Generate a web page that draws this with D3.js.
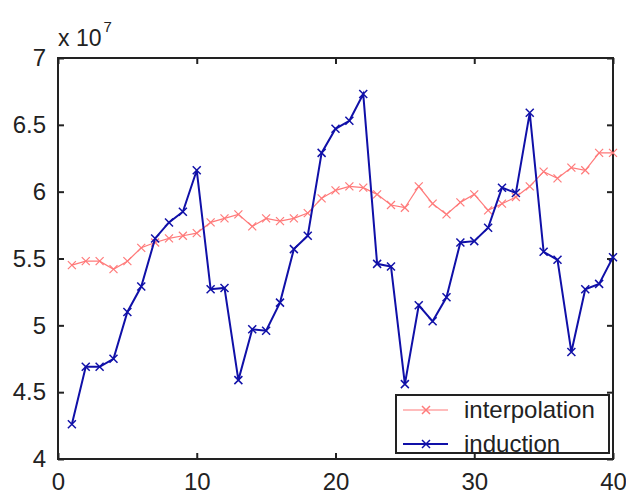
<!DOCTYPE html>
<html>
<head>
<meta charset="utf-8">
<script src="https://cdn.jsdelivr.net/npm/d3@7"></script>
<style>
  body { margin: 0; background: #fff; }
  svg { display: block; font-family: "Liberation Sans", Arial, sans-serif; }
</style>
</head>
<body>
<svg id="chart" width="626" height="496"></svg>
<script>
// values in units of 1e7
const xs = d3.range(1, 41)
const interpolation = [5.45, 5.48, 5.48, 5.42, 5.48, 5.58, 5.62, 5.65, 5.67, 5.69,
	5.77, 5.80, 5.83, 5.74, 5.80, 5.78, 5.80, 5.84, 5.95, 6.01,
	6.04, 6.03, 5.98, 5.90, 5.88, 6.04, 5.91, 5.83, 5.92, 5.98,
	5.86, 5.91, 5.96, 6.04, 6.15, 6.10, 6.18, 6.16, 6.29, 6.29]
const induction = [4.26, 4.69, 4.69, 4.75, 5.10, 5.29, 5.65, 5.77, 5.85, 6.16,
	5.27, 5.28, 4.59, 4.97, 4.96, 5.17, 5.57, 5.67, 6.29, 6.47,
	6.53, 6.73, 5.46, 5.44, 4.56, 5.15, 5.03, 5.21, 5.62, 5.63,
	5.73, 6.03, 5.99, 6.59, 5.55, 5.49, 4.80, 5.27, 5.31, 5.51]
const xTicks = [0, 10, 20, 30, 40]
const yTicks = [4, 4.5, 5, 5.5, 6, 6.5, 7]
const seriesNames = ["interpolation", "induction"]
const seriesColors = ["#ff7a7a", "#1010a8"]

const svg = d3.select("#chart")
const m = {left: 58, right: 13, top: 58, bottom: 37}
const W = 626, H = 496

const x = d3.scaleLinear().domain([0, 40]).range([m.left, W - m.right])
const y = d3.scaleLinear().domain([4, 7]).range([H - m.bottom, m.top])

const tickLen = 6
const axisColor = "#222"

// ticks on all four sides, pointing inward
const g = svg.append("g")
g.append("g").attr("transform", `translate(0,${H - m.bottom})`)
	.call(d3.axisBottom(x).tickValues(xTicks).tickSize(-tickLen).tickPadding(14).tickFormat(d3.format("d")))
g.append("g").attr("transform", `translate(0,${m.top})`)
	.call(d3.axisTop(x).tickValues(xTicks).tickSize(-tickLen).tickFormat(""))
g.append("g").attr("transform", `translate(${m.left},0)`)
	.call(d3.axisLeft(y).tickValues(yTicks).tickSize(-tickLen).tickPadding(12).tickFormat(d => String(d)))
g.append("g").attr("transform", `translate(${W - m.right},0)`)
	.call(d3.axisRight(y).tickValues(yTicks).tickSize(-tickLen).tickFormat(""))

g.selectAll(".domain").remove()
g.selectAll(".tick line").attr("stroke", axisColor).attr("stroke-width", 2)
g.selectAll(".tick text").attr("fill", "#222").style("font-size", "24px")

// axes box
svg.append("rect")
	.attr("x", m.left).attr("y", m.top)
	.attr("width", W - m.left - m.right).attr("height", H - m.top - m.bottom)
	.attr("fill", "none").attr("stroke", axisColor).attr("stroke-width", 2)

// exponent label
const expo = svg.append("text").attr("x", 58).attr("y", 46).attr("fill", "#222").style("font-size", "23px")
expo.append("tspan").text("x 10")
expo.append("tspan").attr("dy", -14).attr("dx", 2).style("font-size", "15px").text("7")

// series
const line = d3.line().x((d, i) => x(xs[i])).y(d => y(d))
const allSeries = [interpolation, induction]

function xMarker(sel, s, color, w) {
	sel.append("path")
		.attr("d", `M${-s},${-s}L${s},${s}M${-s},${s}L${s},${-s}`)
		.attr("stroke", color).attr("stroke-width", w).attr("fill", "none")
}

allSeries.forEach((data, k) => {
	const color = seriesColors[k]
	const w = k === 0 ? 1.2 : 2
	svg.append("path").datum(data)
		.attr("d", line).attr("fill", "none")
		.attr("stroke", color).attr("stroke-width", w)
	svg.append("g").selectAll("g").data(data).join("g")
		.attr("transform", (d, i) => `translate(${x(xs[i])},${y(d)})`)
		.each(function () { xMarker(d3.select(this), 4, color, k === 0 ? 1.2 : 1.5) })
})

// legend
const lg = svg.append("g")
lg.append("rect").attr("x", 396).attr("y", 395).attr("width", 213).attr("height", 58)
	.attr("fill", "#fff").attr("stroke", axisColor).attr("stroke-width", 2)
seriesNames.forEach((name, k) => {
	const cy = 410 + k * 34
	lg.append("line").attr("x1", 403).attr("x2", 448).attr("y1", cy).attr("y2", cy)
		.attr("stroke", seriesColors[k]).attr("stroke-width", k === 0 ? 1.2 : 2)
	const mk = lg.append("g").attr("transform", `translate(426,${cy})`)
	xMarker(mk, 4, seriesColors[k], 1.5)
	lg.append("text").attr("x", 464).attr("y", cy + 8).attr("fill", "#222")
		.style("font-size", "24px").text(name)
})
</script>
</body>
</html>
